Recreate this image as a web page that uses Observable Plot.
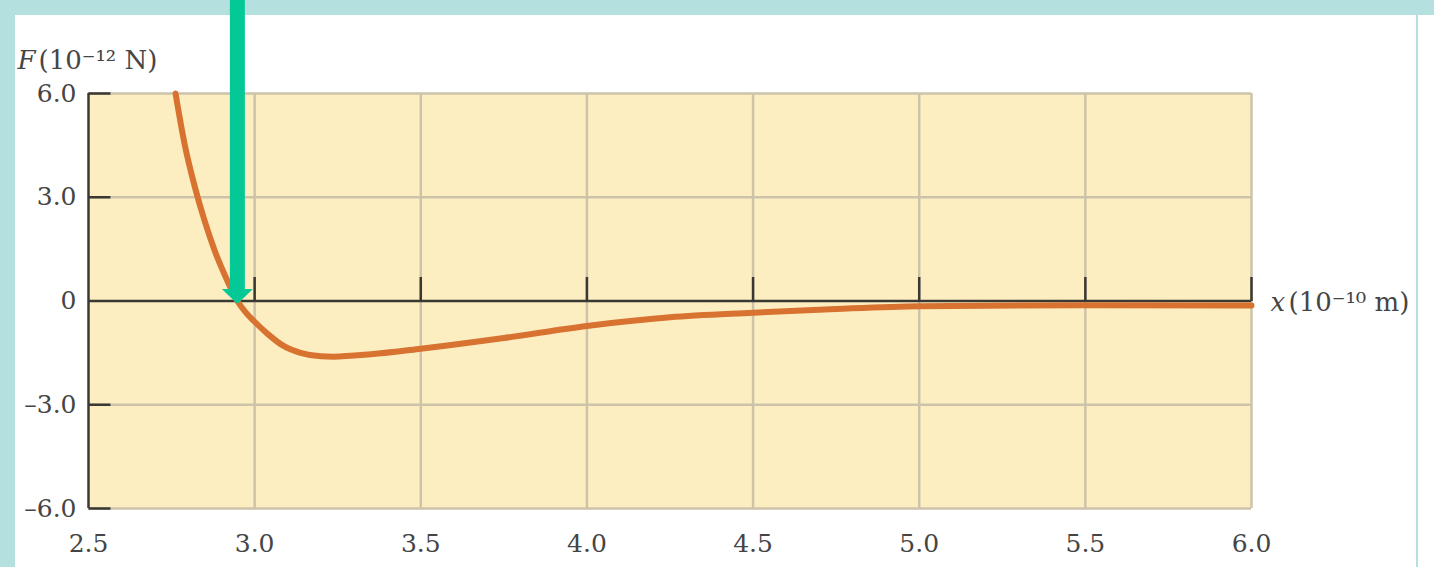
<!DOCTYPE html>
<html>
<head>
<meta charset="utf-8">
<script src="https://cdn.jsdelivr.net/npm/d3@7"></script>
<script src="https://cdn.jsdelivr.net/npm/@observablehq/plot@0.6"></script>
<style>
html, body { margin: 0; padding: 0; background: #ffffff; width: 1434px; height: 567px; overflow: hidden; }
.bar { position: absolute; background: #b4e0df; }
#chart { position: absolute; left: 0; top: 0; }
</style>
</head>
<body>
<div class="bar" style="left:0;top:0;width:1434px;height:15px;"></div>
<div class="bar" style="left:0;top:0;width:15px;height:567px;"></div>
<div class="bar" style="left:1416px;top:0;width:2px;height:567px;"></div>
<div id="chart"></div>
<script>
// separation x (10^-10 m)
const sepX = [2.762, 2.79, 2.82, 2.85, 2.88, 2.91, 2.948, 2.975, 3.0, 3.039, 3.087, 3.138, 3.2, 3.237, 3.35, 3.5, 3.75, 4.0, 4.25, 4.5, 4.75, 5.0, 5.5, 6.0];
// force F (10^-12 N)
const forceF = [6.0, 4.5, 3.3, 2.3, 1.45, 0.75, 0, -0.35, -0.6, -0.95, -1.3, -1.5, -1.6, -1.61, -1.54, -1.38, -1.07, -0.72, -0.47, -0.34, -0.23, -0.15, -0.12, -0.13];
const xTicks = [2.5, 3.0, 3.5, 4.0, 4.5, 5.0, 5.5, 6.0];
const yTicks = [-6, -3, 0, 3, 6];
const equilibrium = [{x: 2.948, y: 0}];
const arrowTop = 9;

const curve = sepX.map((x, i) => ({x, y: forceF[i]}));

const font = "DejaVu Serif";
const textColor = "#454545";
const gridColor = "#cdc3a9";
const axisColor = "#3a3833";
const green = "#04c896";

const tickUp = {draw(ctx) { ctx.moveTo(0, 0); ctx.lineTo(0, -24); }};
const tickRight = {draw(ctx) { ctx.moveTo(0, 0); ctx.lineTo(22, 0); }};
const headDown = {draw(ctx) { ctx.moveTo(-15.5, -12); ctx.lineTo(15.5, -12); ctx.lineTo(0, 3); ctx.closePath(); }};

const fmt = d => d === 0 ? "0" : (d < 0 ? "\u2013" : "") + d3.format(".1f")(Math.abs(d));

const chart = Plot.plot({
  width: 1434,
  height: 567,
  marginLeft: 88,
  marginRight: 183,
  marginTop: 93,
  marginBottom: 59,
  style: {background: "transparent", fontFamily: font, fontSize: "25px", color: textColor},
  x: {domain: [2.5, 6.0]},
  y: {domain: [-6, 6]},
  marks: [
    Plot.frame({fill: "#fdeec2", stroke: null}),
    Plot.ruleX(xTicks.slice(1), {stroke: gridColor, strokeWidth: 2.5}),
    Plot.ruleY(yTicks.filter(d => d !== 0), {stroke: gridColor, strokeWidth: 2.5}),
    Plot.ruleX([2.5], {stroke: axisColor, strokeWidth: 2.5}),
    Plot.dot(yTicks.filter(d => d !== 0), {x: () => 2.5, y: d => d, symbol: tickRight, fill: "none", stroke: axisColor, strokeWidth: 2.5}),
    Plot.dot(xTicks.slice(1), {x: d => d, y: () => 0, symbol: tickUp, fill: "none", stroke: axisColor, strokeWidth: 2.5}),
    Plot.ruleY([0], {stroke: axisColor, strokeWidth: 2.5}),
    Plot.line(curve, {x: "x", y: "y", stroke: "#d87230", strokeWidth: 6, curve: "monotone-x"}),
    Plot.ruleX(equilibrium, {x: "x", y1: "y", y2: () => arrowTop, dy: -11, stroke: green, strokeWidth: 15}),
    Plot.dot(equilibrium, {x: "x", y: "y", symbol: headDown, fill: green, stroke: "none"}),
    Plot.axisX({ticks: xTicks, tickFormat: fmt, tickSize: 0, tickPadding: 26, fill: textColor, fontSize: 25, label: null}),
    Plot.axisY({ticks: yTicks, tickFormat: fmt, tickSize: 0, tickPadding: 12, fill: textColor, fontSize: 25, label: null}),
    Plot.text(["F"], {frameAnchor: "top-left", text: d => d, dx: -71, dy: -43, textAnchor: "start", fontStyle: "italic", fontSize: 26, fill: textColor}),
    Plot.text(["(10\u207B\u00B9\u00B2 N)"], {frameAnchor: "top-left", text: d => d, dx: -50, dy: -43, textAnchor: "start", fontSize: 26, fill: textColor}),
    Plot.text(["x"], {x: () => 6.0, y: () => 0, text: d => d, dx: 19, dy: 2, textAnchor: "start", fontStyle: "italic", fontSize: 26, fill: textColor}),
    Plot.text(["(10\u207B\u00B9\u2070 m)"], {x: () => 6.0, y: () => 0, text: d => d, dx: 37, dy: 2, textAnchor: "start", fontSize: 26, fill: textColor})
  ]
});
document.getElementById("chart").appendChild(chart);
</script>
</body>
</html>
